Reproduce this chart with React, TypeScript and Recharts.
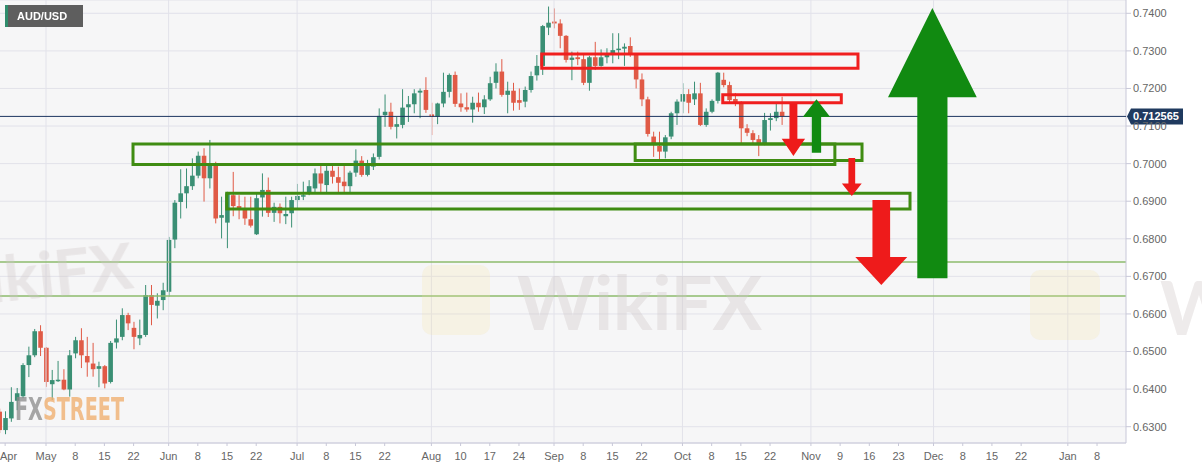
import React from "react";
import {
  ComposedChart,
  Bar,
  XAxis,
  YAxis,
  CartesianGrid,
  ReferenceLine,
  ReferenceArea,
} from "recharts";

// AUD/USD daily candles, first candle = 2020-04-21, one per weekday
const START = "2020-04-21";

const opens = [
  0.634, 0.6291, 0.6322, 0.6369, 0.6381, 0.6464, 0.649, 0.6554, 0.651, 0.6413,
  0.6421, 0.6425, 0.6399, 0.6495, 0.653, 0.6488, 0.6468, 0.6454, 0.6461, 0.6419,
  0.6524, 0.6539, 0.6597, 0.6563, 0.6535, 0.6544, 0.665, 0.6622, 0.6637, 0.6659,
  0.6798, 0.6898, 0.6921, 0.694, 0.6968, 0.7021, 0.6961, 0.6994, 0.6856, 0.6843,
  0.6916, 0.6887, 0.6881, 0.6852, 0.6812, 0.691, 0.693, 0.6869, 0.6885, 0.686,
  0.6868, 0.6903, 0.6912, 0.6922, 0.6934, 0.6974, 0.6943, 0.6981, 0.6964, 0.6952,
  0.694, 0.6976, 0.7008, 0.697, 0.6992, 0.7018, 0.7129, 0.7138, 0.7098, 0.7103,
  0.715, 0.7158, 0.7189, 0.7196, 0.7131, 0.7125, 0.716, 0.7191, 0.7236, 0.716,
  0.715, 0.7144, 0.7162, 0.715, 0.7171, 0.7215, 0.7245, 0.7183, 0.7194, 0.7169,
  0.7165, 0.7196, 0.7235, 0.726, 0.7362, 0.7378, 0.7373, 0.734, 0.7276, 0.7283,
  0.7278, 0.7215, 0.7283, 0.726, 0.7283, 0.7289, 0.7302, 0.7306, 0.7313, 0.7289,
  0.7224, 0.7171, 0.7072, 0.7047, 0.7032, 0.7072, 0.7134, 0.7165, 0.7185, 0.7171,
  0.7187, 0.7103, 0.7138, 0.7167, 0.7223, 0.7209, 0.7172, 0.716, 0.7094, 0.7081,
  0.7065, 0.7054, 0.7116, 0.7121, 0.7138,
];
const highs = [
  0.6348, 0.6341, 0.6405, 0.6403, 0.6469, 0.6513, 0.656, 0.657, 0.6512, 0.6451,
  0.6475, 0.6453, 0.6504, 0.6539, 0.6562, 0.6539, 0.6523, 0.6473, 0.6464, 0.6528,
  0.6585, 0.6615, 0.6603, 0.6579, 0.6585, 0.6677, 0.6677, 0.6655, 0.6683, 0.6805,
  0.6903, 0.6985, 0.6987, 0.7014, 0.7032, 0.7041, 0.7063, 0.7005, 0.6912, 0.6925,
  0.6978, 0.6916, 0.6912, 0.6912, 0.6921, 0.6974, 0.6963, 0.6896, 0.6894, 0.6912,
  0.6912, 0.6946, 0.6952, 0.6956, 0.6987, 0.6994, 0.6994, 0.6994, 0.6992, 0.6994,
  0.6981, 0.7038, 0.702, 0.701, 0.7027, 0.7147, 0.7184, 0.7162, 0.7125, 0.7198,
  0.718, 0.7198, 0.72, 0.723, 0.7162, 0.7162, 0.7242, 0.724, 0.7245, 0.7187,
  0.7189, 0.7178, 0.7189, 0.7182, 0.7231, 0.7267, 0.7278, 0.7218, 0.7215, 0.72,
  0.7205, 0.7245, 0.7289, 0.7369, 0.7418, 0.7413, 0.7384, 0.7342, 0.7298, 0.7298,
  0.7294, 0.7287, 0.7324, 0.7304, 0.7307, 0.7347, 0.7347, 0.732, 0.7336, 0.7294,
  0.724, 0.7178, 0.7085, 0.7085, 0.7076, 0.7138, 0.7171, 0.7214, 0.7198, 0.7218,
  0.7215, 0.7147, 0.7171, 0.7244, 0.7242, 0.7218, 0.7188, 0.7166, 0.7105, 0.7089,
  0.7076, 0.7135, 0.7134, 0.716, 0.7178,
];
const lows = [
  0.6283, 0.628, 0.6313, 0.6344, 0.6376, 0.6432, 0.6485, 0.6488, 0.6406, 0.6371,
  0.6419, 0.6397, 0.638, 0.6482, 0.6456, 0.6433, 0.6433, 0.6405, 0.6402, 0.6415,
  0.6508, 0.653, 0.6557, 0.6506, 0.6517, 0.6539, 0.657, 0.6588, 0.661, 0.6646,
  0.6775, 0.6854, 0.6881, 0.693, 0.6961, 0.6899, 0.6934, 0.6841, 0.6801, 0.6775,
  0.686, 0.6852, 0.6837, 0.683, 0.681, 0.6859, 0.6858, 0.6845, 0.6841, 0.6839,
  0.683, 0.6878, 0.6903, 0.6916, 0.6921, 0.6922, 0.6922, 0.6947, 0.6922, 0.6922,
  0.6921, 0.6965, 0.6965, 0.6966, 0.6983, 0.7011, 0.7098, 0.7091, 0.7067, 0.7094,
  0.7111, 0.7134, 0.7121, 0.7135, 0.7076, 0.7105, 0.715, 0.7176, 0.7151, 0.7138,
  0.7138, 0.7109, 0.7138, 0.7132, 0.7167, 0.72, 0.7178, 0.7134, 0.7141, 0.7143,
  0.715, 0.7189, 0.7221, 0.7236, 0.7342, 0.736, 0.7307, 0.7269, 0.7222, 0.7262,
  0.7209, 0.7194, 0.7249, 0.7258, 0.7267, 0.7267, 0.7278, 0.726, 0.7284, 0.72,
  0.7153, 0.7072, 0.7018, 0.7011, 0.7014, 0.7065, 0.7103, 0.7134, 0.7134, 0.7156,
  0.71, 0.7098, 0.7134, 0.716, 0.7203, 0.7162, 0.7153, 0.7054, 0.7073, 0.705,
  0.702, 0.7049, 0.7088, 0.7113, 0.7103,
];
const closes = [
  0.6291, 0.6323, 0.6366, 0.6389, 0.6464, 0.649, 0.6554, 0.651, 0.6419, 0.6424,
  0.6425, 0.6399, 0.649, 0.653, 0.649, 0.6471, 0.6453, 0.6461, 0.6415, 0.6523,
  0.6535, 0.6597, 0.6575, 0.6539, 0.6544, 0.665, 0.6624, 0.6635, 0.6663, 0.6797,
  0.6896, 0.6921, 0.694, 0.6968, 0.7021, 0.6961, 0.6996, 0.6854, 0.6863, 0.6921,
  0.6887, 0.6881, 0.6854, 0.6835, 0.6908, 0.693, 0.6869, 0.6885, 0.6868, 0.6866,
  0.6903, 0.6914, 0.6916, 0.694, 0.6974, 0.6947, 0.6981, 0.6965, 0.6949, 0.694,
  0.6976, 0.7008, 0.697, 0.7001, 0.7017, 0.7127, 0.7138, 0.7098, 0.7105, 0.7149,
  0.7158, 0.7187, 0.7194, 0.7143, 0.7125, 0.716, 0.7191, 0.7236, 0.7159, 0.715,
  0.7144, 0.7162, 0.715, 0.7171, 0.7214, 0.7245, 0.7183, 0.7194, 0.7162, 0.7162,
  0.7196, 0.7233, 0.726, 0.7366, 0.7375, 0.7373, 0.734, 0.7276, 0.7282, 0.7278,
  0.7215, 0.7283, 0.726, 0.7283, 0.7289, 0.7302, 0.7306, 0.7311, 0.7289, 0.7224,
  0.7171, 0.7079, 0.705, 0.7032, 0.707, 0.7134, 0.7165, 0.7185, 0.7162, 0.7187,
  0.7103, 0.7138, 0.7167, 0.7242, 0.7209, 0.7169, 0.7161, 0.7094, 0.7082, 0.7063,
  0.7055, 0.7116, 0.7121, 0.7138, 0.7126,
];

const tickDates = [
  "2020-04-22", "2020-05-01", "2020-05-08", "2020-05-15", "2020-05-22",
  "2020-06-01", "2020-06-08", "2020-06-15", "2020-06-22",
  "2020-07-01", "2020-07-08", "2020-07-15", "2020-07-22",
  "2020-08-03", "2020-08-10", "2020-08-17", "2020-08-24",
  "2020-09-01", "2020-09-08", "2020-09-15", "2020-09-22",
  "2020-10-01", "2020-10-08", "2020-10-15", "2020-10-22",
  "2020-11-02", "2020-11-09", "2020-11-16", "2020-11-23",
  "2020-12-01", "2020-12-08", "2020-12-15", "2020-12-22",
  "2021-01-01", "2021-01-08",
];
const tickLabels = [
  "Apr", "May", "8", "15", "22", "Jun", "8", "15", "22", "Jul", "8", "15", "22",
  "Aug", "10", "17", "24", "Sep", "8", "15", "22", "Oct", "8", "15", "22",
  "Nov", "9", "16", "23", "Dec", "8", "15", "22", "Jan", "8",
];
const monthDates = [
  "2020-05-01", "2020-06-01", "2020-07-01", "2020-08-03", "2020-09-01",
  "2020-10-01", "2020-11-02", "2020-12-01", "2021-01-01",
];

const priceTicks = [0.63, 0.64, 0.65, 0.66, 0.67, 0.68, 0.69, 0.7, 0.71, 0.72, 0.73, 0.74];
const lastPrice = 0.712565;
const levelLines = [0.6738, 0.66475];

// drawn boxes (x in trading-day index, y in price)
const boxStart = [22.9, 108.9, 38.95, 92.9, 123.9];
const boxEnd = [143.1, 147.75, 155.97, 147.06, 144.2];
const boxLow = [0.6998, 0.7008, 0.6879, 0.7254, 0.7162];
const boxHigh = [0.7052, 0.7052, 0.6921, 0.7292, 0.7183];
const boxColor = ["#3f8c12", "#3f8c12", "#3f8c12", "#f01e1e", "#f01e1e"];

// drawn arrows
const arrowStart = [134.0, 137.6, 144.3, 146.6, 152.2];
const arrowEnd = [138.0, 142.3, 147.7, 155.5, 167.4];
const arrowTail = [0.716, 0.7029, 0.7015, 0.6903, 0.6695];
const arrowTip = [0.702, 0.7171, 0.6914, 0.6677, 0.7414];
const arrowColor = ["#ee1b1b", "#118a11", "#ee1b1b", "#ee1b1b", "#118a11"];

const UP = "#3a8f74";
const DOWN = "#e05a46";
const FONT = "'Liberation Sans', Arial, sans-serif";

function toIdx(d: string) {
  const [sy, sm, sd] = START.split("-").map(Number);
  const [y, m, dd] = d.split("-").map(Number);
  const s = Date.UTC(sy, sm - 1, sd);
  const t = Date.UTC(y, m - 1, dd);
  let n = 0;
  for (let u = s + 86400000; u <= t; u += 86400000) {
    const wd = new Date(u).getUTCDay();
    if (wd !== 0 && wd !== 6) n++;
  }
  return n;
}

const data = opens.map((o, i) => ({
  i,
  o,
  h: highs[i],
  l: lows[i],
  c: closes[i],
  range: [lows[i], highs[i]],
}));

const tickIdx = tickDates.map(toIdx);
const labelOf: Record<number, string> = {};
tickIdx.forEach((v, k) => (labelOf[v] = tickLabels[k]));

const Candle = (p: any) => {
  const { x, y, width, height, payload } = p;
  if (!payload || height == null) return null;
  const top = Math.min(y, y + height);
  const hh = Math.abs(height);
  const k = hh / (payload.h - payload.l);
  const yo = top + (payload.h - payload.o) * k;
  const yc = top + (payload.h - payload.c) * k;
  const cx = x + width / 2;
  const col = payload.c >= payload.o ? UP : DOWN;
  return (
    <g>
      <line x1={cx} x2={cx} y1={top} y2={top + hh} stroke={col} strokeWidth={1} />
      <rect
        x={x}
        y={Math.min(yo, yc)}
        width={width}
        height={Math.max(Math.abs(yc - yo), 1)}
        fill={col}
      />
    </g>
  );
};

const XTick = (p: any) => {
  const { x, y, payload, index } = p;
  const first = index === 0;
  return (
    <text
      x={first ? 0 : x}
      y={y}
      dy="0.71em"
      textAnchor={first ? "start" : "middle"}
      fill="#666"
      fontSize={11}
      fontFamily={FONT}
    >
      {labelOf[payload.value]}
    </text>
  );
};

const arrowShape = (up: boolean, color: string) => (p: any) => {
  const { x, y, width, height } = p;
  const top = Math.min(y, y + height);
  const h = Math.abs(height);
  const cx = x + width / 2;
  const head = h * 0.33;
  const sw = width * 0.34;
  const pts = up
    ? [
        [cx, top], [x + width, top + head], [cx + sw / 2, top + head],
        [cx + sw / 2, top + h], [cx - sw / 2, top + h], [cx - sw / 2, top + head],
        [x, top + head],
      ]
    : [
        [cx, top + h], [x, top + h - head], [cx - sw / 2, top + h - head],
        [cx - sw / 2, top], [cx + sw / 2, top], [cx + sw / 2, top + h - head],
        [x + width, top + h - head],
      ];
  return <polygon points={pts.map((q) => q.join(",")).join(" ")} fill={color} />;
};

const PriceTag = (p: any) => {
  const vb = p.viewBox || {};
  const X = vb.x + vb.width;
  const Y = vb.y;
  return (
    <g>
      <polygon
        points={`${X + 1},${Y} ${X + 5},${Y - 8} ${X + 57},${Y - 8} ${X + 57},${Y + 8} ${X + 5},${Y + 8}`}
        fill="#1f3a5f"
      />
      <text x={X + 7} y={Y + 4} fill="#fff" fontSize={11} fontWeight="bold" fontFamily={FONT}>
        {lastPrice.toFixed(6)}
      </text>
    </g>
  );
};

export default function App() {
  return (
    <div style={{ position: "absolute", left: 0, top: 0, width: 1202, height: 467, background: "#fff" }}>
      <ComposedChart
        width={1202}
        height={467}
        data={data}
        margin={{ top: 0, right: 0, bottom: 0, left: 0 }}
      >
        <CartesianGrid vertical={false} stroke="#e2e2ea" fill="#f6f6f7" />
        {monthDates.map((d) => (
          <ReferenceLine key={d} x={toIdx(d)} stroke="#e2e2ea" strokeWidth={1} />
        ))}
        <XAxis
          type="number"
          dataKey="i"
          domain={[0.12, 192.96]}
          allowDataOverflow
          ticks={tickIdx}
          interval={0}
          tick={<XTick />}
          tickSize={3}
          tickMargin={6}
          height={24}
          stroke="#c8c8d8"
        />
        <YAxis
          orientation="right"
          type="number"
          domain={[0.62566, 0.74354]}
          allowDataOverflow
          ticks={priceTicks}
          interval={0}
          tickFormatter={(v: number) => v.toFixed(4)}
          width={76}
          tickSize={5}
          tickMargin={2}
          stroke="#c8c8d8"
          tick={{ fill: "#666", fontSize: 11, fontFamily: FONT }}
        />
        {levelLines.map((v) => (
          <ReferenceLine key={v} y={v} stroke="#8dbb6c" strokeWidth={1.5} />
        ))}
        <Bar dataKey="range" barSize={4.6} shape={<Candle />} isAnimationActive={false} />
        <ReferenceLine y={lastPrice} stroke="#1c3560" strokeWidth={1} label={<PriceTag />} zIndex={600} />
        {boxStart.map((x1, k) => (
          <ReferenceArea
            key={"b" + k}
            x1={x1}
            x2={boxEnd[k]}
            y1={boxLow[k]}
            y2={boxHigh[k]}
            fill="none"
            fillOpacity={0}
            stroke={boxColor[k]}
            strokeWidth={3}
            strokeOpacity={1}
            zIndex={600}
          />
        ))}
        {arrowStart.map((x1, k) => (
          <ReferenceArea
            key={"a" + k}
            x1={x1}
            x2={arrowEnd[k]}
            y1={Math.min(arrowTail[k], arrowTip[k])}
            y2={Math.max(arrowTail[k], arrowTip[k])}
            shape={arrowShape(arrowTip[k] > arrowTail[k], arrowColor[k])}
            zIndex={600}
          />
        ))}
      </ComposedChart>
      <svg
        width={1202}
        height={467}
        style={{ position: "absolute", left: 0, top: 0, pointerEvents: "none" }}
      >
        <g opacity={0.35} fontFamily="Lato, sans-serif" fontWeight="bold" fill="#cfc6c6">
          <text x={135} y={288} fontSize={64} textAnchor="end" transform="rotate(-6 135 288)">WikiFX</text>
          <rect x={422} y={265} width={68} height={70} rx={10} fill="#f3dfa0" opacity={0.6} />
          <text x={517} y={330} fontSize={74} textLength={245}>WikiFX</text>
          <rect x={1030} y={270} width={70} height={70} rx={10} fill="#f3dfa0" opacity={0.6} />
          <text x={1160} y={335} fontSize={74}>WikiFX</text>
        </g>
        <text x={15} y={420} fontSize={32} fontWeight="bold" fontFamily="'DejaVu Sans', sans-serif"
          textLength={109} lengthAdjust="spacingAndGlyphs">
          <tspan fill="#8a8a8a" fillOpacity={0.75}>FX</tspan>
          <tspan fill="#f0b070" fillOpacity={0.8}>STREET</tspan>
        </text>
        <rect x={5} y={5} width={78} height={22} fill="#5e5e5e" />
        <rect x={5} y={5} width={3} height={22} fill="#2f8c6c" />
        <text x={17} y={20} fill="#fff" fontSize={11} fontWeight="bold" fontFamily={FONT}>AUD/USD</text>
      </svg>
    </div>
  );
}
